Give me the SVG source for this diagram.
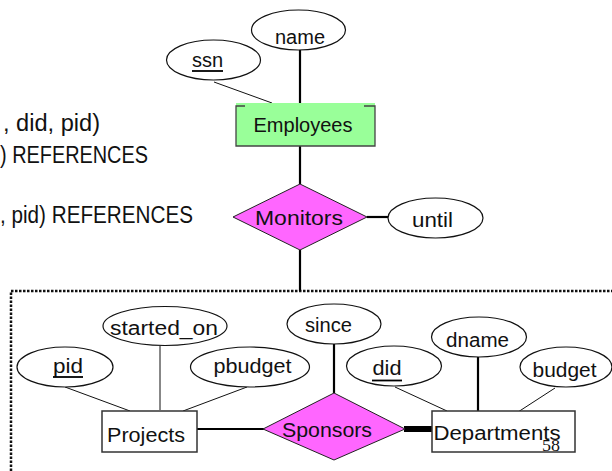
<svg xmlns="http://www.w3.org/2000/svg" width="612" height="471" viewBox="0 0 612 471">
<style>
text{font-family:"Liberation Sans",Arial,sans-serif;fill:#111}
.lbl{font-size:20px;text-anchor:middle}
.side{font-size:23px}
.attr{fill:#fff;stroke:#111;stroke-width:1.2}
.ent{fill:#fff;stroke:#333;stroke-width:1.5}
.rel{fill:#ff66ff;stroke:#222;stroke-width:1}
.thin{stroke:#111;stroke-width:1;fill:none}
.thick{stroke:#000;stroke-width:2.2;fill:none}
.ul{stroke:#000;stroke-width:1.8}
</style>
<rect width="612" height="471" fill="#fff"/>
<g id="side-text">
<text class="side" x="3" y="131" textLength="97" lengthAdjust="spacingAndGlyphs">, did, pid)</text>
<text class="side" x="0" y="163" textLength="148" lengthAdjust="spacingAndGlyphs">) REFERENCES</text>
<text class="side" x="0" y="223" textLength="193" lengthAdjust="spacingAndGlyphs">, pid) REFERENCES</text>
</g>
<g id="aggregation">
<path d="M11 471 V291 H612" fill="none" stroke="#111" stroke-width="2.5" stroke-dasharray="2.5 1.5"/>
</g>
<g id="connectors">
<line class="thin" x1="214" y1="82" x2="272" y2="103"/>
<line class="thick" x1="300" y1="50" x2="300" y2="103"/>
<line class="thick" x1="300" y1="146" x2="300" y2="184"/>
<line class="thick" x1="367" y1="217" x2="388" y2="217"/>
<line class="thick" x1="300" y1="250" x2="300" y2="291"/>
<line class="thin" x1="65" y1="387" x2="130" y2="411"/>
<line class="thin" x1="160" y1="346" x2="160" y2="410"/>
<line class="thin" x1="247" y1="387" x2="183" y2="411"/>
<line class="thick" x1="197" y1="429" x2="264" y2="429"/>
<line class="thick" x1="334" y1="344" x2="334" y2="393"/>
<line stroke="#000" stroke-width="6" x1="404" y1="429" x2="432" y2="429"/>
<line class="thin" x1="395" y1="387" x2="447" y2="411"/>
<line class="thick" x1="478" y1="357" x2="478" y2="411"/>
<line class="thin" x1="555" y1="388" x2="518" y2="412"/>
</g>
<g id="ssn">
<ellipse class="attr" cx="213.5" cy="60" rx="47" ry="20"/>
<text class="lbl" x="207.5" y="66.5">ssn</text>
<line class="ul" x1="192" y1="71" x2="223" y2="71"/>
</g>
<g id="name">
<ellipse class="attr" cx="298.5" cy="30" rx="47" ry="20"/>
<text class="lbl" x="300" y="44">name</text>
</g>
<g id="employees">
<rect x="236" y="103" width="139" height="43" fill="#99ff99"/>
<path d="M245 106 H236 V146 H375 V106 H364" fill="none" stroke="#444" stroke-width="1.3"/>
<text class="lbl" x="303" y="132" textLength="99" lengthAdjust="spacingAndGlyphs">Employees</text>
</g>
<g id="monitors">
<polygon class="rel" points="233,217 300,184 367,217 300,250"/>
<text class="lbl" x="299" y="224.5" textLength="88" lengthAdjust="spacingAndGlyphs">Monitors</text>
</g>
<g id="until">
<ellipse class="attr" cx="435.5" cy="218" rx="47.5" ry="20"/>
<text class="lbl" x="432.5" y="227" textLength="41" lengthAdjust="spacingAndGlyphs">until</text>
</g>
<g id="started_on">
<ellipse class="attr" cx="165" cy="326" rx="62" ry="19.5"/>
<text class="lbl" x="164" y="334.5" textLength="108" lengthAdjust="spacingAndGlyphs">started_on</text>
</g>
<g id="pid">
<ellipse class="attr" cx="65" cy="367" rx="48" ry="20"/>
<text class="lbl" x="68" y="373" textLength="30" lengthAdjust="spacingAndGlyphs">pid</text>
<line class="ul" x1="53" y1="377" x2="83" y2="377"/>
</g>
<g id="pbudget">
<ellipse class="attr" cx="250" cy="367" rx="59.5" ry="20"/>
<text class="lbl" x="252.5" y="373" textLength="78" lengthAdjust="spacingAndGlyphs">pbudget</text>
</g>
<g id="projects">
<rect class="ent" x="102" y="411" width="95" height="41"/>
<text class="lbl" x="146" y="441.5" textLength="78" lengthAdjust="spacingAndGlyphs">Projects</text>
</g>
<g id="since">
<ellipse class="attr" cx="334" cy="324" rx="47" ry="20"/>
<text class="lbl" x="328.5" y="331.5" textLength="47" lengthAdjust="spacingAndGlyphs">since</text>
</g>
<g id="sponsors">
<polygon class="rel" points="263,429 334,393 405,429 334,460"/>
<text class="lbl" x="327" y="437" textLength="90" lengthAdjust="spacingAndGlyphs">Sponsors</text>
</g>
<g id="did">
<ellipse class="attr" cx="394" cy="366" rx="47.5" ry="20"/>
<text class="lbl" x="387" y="375" textLength="29" lengthAdjust="spacingAndGlyphs">did</text>
<line class="ul" x1="372" y1="380.5" x2="402" y2="380.5"/>
</g>
<g id="dname">
<ellipse class="attr" cx="479" cy="337" rx="47.5" ry="20"/>
<text class="lbl" x="477.5" y="346.5" textLength="63" lengthAdjust="spacingAndGlyphs">dname</text>
</g>
<g id="budget">
<ellipse class="attr" cx="566" cy="367" rx="46" ry="20"/>
<text class="lbl" x="564.5" y="376.5" textLength="64" lengthAdjust="spacingAndGlyphs">budget</text>
</g>
<g id="departments">
<rect class="ent" x="432" y="411" width="143" height="41"/>
<text class="lbl" x="497" y="439.5" textLength="127" lengthAdjust="spacingAndGlyphs">Departments</text>
</g>
<g id="page-number">
<text x="542" y="451" style="font-family:'Liberation Serif','Times New Roman',serif;font-size:17px" fill="#222" textLength="18" lengthAdjust="spacingAndGlyphs">58</text>
</g>
</svg>
